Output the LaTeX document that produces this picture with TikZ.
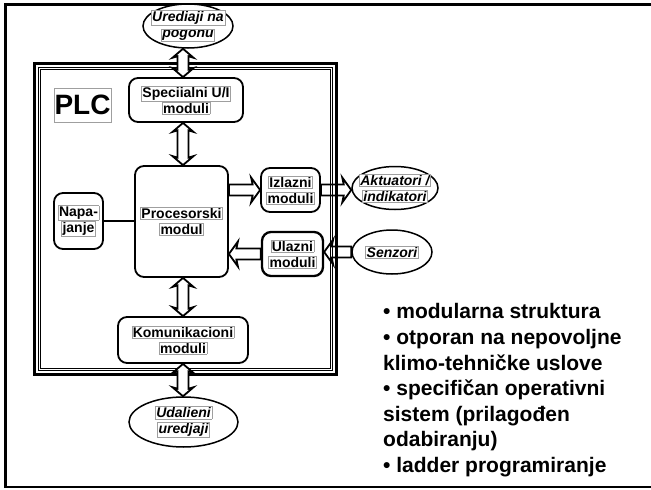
\documentclass[tikz,border=0pt]{standalone}
\usepackage{fontspec}
\setmainfont{Liberation Sans}
\usetikzlibrary{calc,shapes.geometric}

% thin grey frame round every line of a label
\setlength{\fboxsep}{0.8pt}
\setlength{\fboxrule}{0.5pt}
\newcommand{\lbl}[1]{\fcolorbox{gray!75}{white}{#1}}

% hollow double-headed block arrow between two points stacked vertically
\newcommand{\vdarrow}[2]{%
  \draw[blockarrow] let \p1=(#1), \p2=(#2) in
    (\x1,\y1) -- (\x1+10.5pt,\y1-9pt) -- (\x1+5.5pt,\y1-7.5pt)
    -- (\x1+5.5pt,\y2+7.5pt) -- (\x1+10.5pt,\y2+9pt) -- (\x1,\y2)
    -- (\x1-10.5pt,\y2+9pt) -- (\x1-5.5pt,\y2+7.5pt)
    -- (\x1-5.5pt,\y1-7.5pt) -- (\x1-10.5pt,\y1-9pt) -- cycle;}

% hollow single-headed block arrow, horizontal, from #1 to the tip #2
\newcommand{\hsarrow}[2]{%
  \draw[blockarrow] let \p1=(#1), \p2=(#2), \n1={sign(\x2-\x1)} in
    (\x1,\y2+5.5pt) -- (\x2-\n1*7.5pt,\y2+5.5pt) -- (\x2-\n1*9pt,\y2+12.5pt)
    -- (\x2,\y2) -- (\x2-\n1*9pt,\y2-12.5pt) -- (\x2-\n1*7.5pt,\y2-5.5pt)
    -- (\x1,\y2-5.5pt) -- cycle;}

\tikzset{
  modbox/.style={draw, line width=1.8pt, rounded corners=9pt, fill=white,
    inner sep=0pt, align=center, font=\bfseries\fontsize{14}{16}\selectfont},
  device/.style={draw, ellipse, line width=1.5pt, fill=white, inner sep=0pt},
  devtext/.style={inner sep=0pt, align=center,
    font=\bfseries\itshape\fontsize{14}{16}\selectfont},
  blockarrow/.style={draw, line width=1.8pt, fill=white, line join=miter},
  link/.style={line width=1.6pt}
}

\begin{document}
\begin{tikzpicture}[x=1pt, y=-1pt]
  \path[use as bounding box, clip] (0,0) rectangle (651,490);
  \fill[white] (0,0) rectangle (651,490);

  % page frame (its right side lies past the edge)
  \draw[line width=2.6pt] (5.3,4.3) rectangle (700,487);

  % common vertical axis of the stacked modules
  \coordinate (spine) at (183,0);

  % outside devices
  \node[device, minimum width=90pt, minimum height=44pt] (ured) at (188,26) {};
  \node[devtext] (uredt) at (ured.center) {\lbl{Urediaji na}\\\lbl{pogonu}};
  \node[device, minimum width=86pt, minimum height=43pt] (akt) at (395,188) {};
  \node[devtext] (aktt) at (akt.center) {\lbl{Aktuatori /}\\\lbl{indikatori}};
  \node[device, minimum width=80pt, minimum height=44pt] (senz) at (392,252) {};
  \node[devtext] (senzt) at (senz.center) {\lbl{Senzori}};
  \node[device, minimum width=109pt, minimum height=50pt] (udal) at (183.5,422) {};
  \node[devtext] (udalt) at (udal.center) {\lbl{Udalieni}\\\lbl{uredjaji}};

  % PLC modules
  \node[modbox, minimum width=114pt, minimum height=44pt] (spec) at (186,100)
    {\lbl{Speciialni U/I}\\\lbl{moduli}};
  \node[modbox, minimum width=93pt, minimum height=111pt] (proc) at (181.5,221.5)
    {\lbl{Procesorski}\\\lbl{modul}};
  \node[modbox, minimum width=49pt, minimum height=56pt] (napa) at (78.5,221)
    {\lbl{Napa-}\\\lbl{janje}};
  \node[modbox, minimum width=59pt, minimum height=44pt] (izl) at (290.5,190)
    {\lbl{Izlazni}\\\lbl{moduli}};
  \node[modbox, line width=2.3pt, minimum width=61pt, minimum height=44pt] (ul) at (292.5,254)
    {\lbl{Ulazni}\\\lbl{moduli}};
  \node[modbox, minimum width=130pt, minimum height=46pt] (kom) at (183,340)
    {\lbl{Komunikacioni}\\\lbl{moduli}};

  % power supply link
  \draw[link] (napa.east) -- (proc.west |- napa.east);

  % signal flow in and out
  \hsarrow{proc.east |- izl.west}{izl.west}
  \hsarrow{izl.east}{akt.west |- izl.east}
  \hsarrow{senz.west}{ul.east |- senz.west}
  \hsarrow{ul.west}{proc.east |- ul.west}

  % PLC enclosure
  \draw[line width=2.6pt] (34.3,63.3) rectangle (336.7,374.7);
  \draw[line width=1pt] (38.2,67.2) rectangle (332.8,370.8);
  \draw[line width=1.2pt] (40.8,69.8) rectangle (330.2,368.2);
  \node[draw=gray!75, line width=0.5pt, inner sep=0pt, minimum width=57pt,
    minimum height=34pt, font=\bfseries\fontsize{28}{30}\selectfont] (plc) at (82.5,105) {PLC};

  % bus links along the module stack
  \vdarrow{spine |- ured.south}{spine |- spec.north}
  \vdarrow{spine |- spec.south}{spine |- proc.north}
  \vdarrow{spine |- proc.south}{spine |- kom.north}
  \vdarrow{spine |- kom.south}{spine |- udal.north}

  % features
  \node[anchor=north west, inner sep=0pt, align=left,
    font=\bfseries\fontsize{21}{25.6}\selectfont] (feat) at (383,303.5)
    {• modularna struktura\\
     • otporan na nepovoljne\\
     klimo-tehničke uslove\\
     • specifičan operativni\\
     sistem (prilagođen\\
     odabiranju)\\
     • ladder programiranje};
\end{tikzpicture}
\end{document}
